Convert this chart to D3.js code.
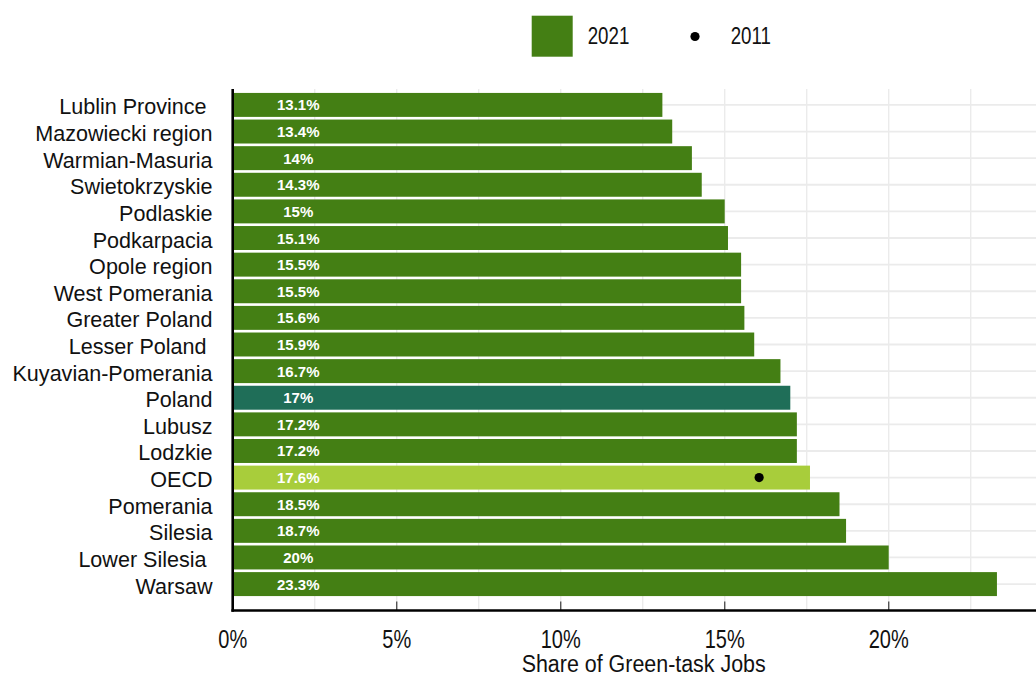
<!DOCTYPE html>
<html>
<head>
<meta charset="utf-8">
<script src="https://cdn.jsdelivr.net/npm/d3@7"></script>
<style>
  html, body { margin: 0; padding: 0; background: #ffffff; }
  svg { display: block; font-family: "Liberation Sans", Arial, Helvetica, sans-serif; }
  text { white-space: pre; }
</style>
</head>
<body>
<svg id="chart" width="1036" height="677"></svg>
<script>
// ---- data ----
const categories = [
  "Lublin Province ", "Mazowiecki region", "Warmian-Masuria", "Swietokrzyskie",
  "Podlaskie", "Podkarpacia", "Opole region", "West Pomerania", "Greater Poland",
  "Lesser Poland ", "Kuyavian-Pomerania", "Poland", "Lubusz", "Lodzkie", "OECD",
  "Pomerania", "Silesia", "Lower Silesia ", "Warsaw"
];
const values2021 = [13.1, 13.4, 14, 14.3, 15, 15.1, 15.5, 15.5, 15.6, 15.9, 16.7, 17, 17.2, 17.2, 17.6, 18.5, 18.7, 20, 23.3];
const labels2021 = ["13.1%", "13.4%", "14%", "14.3%", "15%", "15.1%", "15.5%", "15.5%", "15.6%", "15.9%", "16.7%", "17%", "17.2%", "17.2%", "17.6%", "18.5%", "18.7%", "20%", "23.3%"];
const points2011 = [{ category: "OECD", value: 16.05 }];
const xTicks = [0, 5, 10, 15, 20];
const xGrid = [0, 2.5, 5, 7.5, 10, 12.5, 15, 17.5, 20, 22.5];
const legendLabels = ["2021", "2011"];
const axisTitle = "Share of Green-task Jobs";

// ---- styles ----
const colorMain = "#447f14";
const colorPoland = "#1f6e58";
const colorOECD = "#a8cd3b";
const gridColor = "#ebebeb";

const svg = d3.select("#chart");
const panel = { left: 232.7, right: 1036, top: 89, bottom: 610.5 };

const x = d3.scaleLinear().domain([0, 24.5]).range([panel.left, panel.left + 24.5 * 32.8]);
const y = d3.scaleBand().domain(categories).range([91.6, 597.4]).paddingInner(0.1).paddingOuter(0.05);

// grid
const g = svg.append("g");
g.selectAll("line.vg").data(xGrid).join("line")
  .attr("x1", d => x(d)).attr("x2", d => x(d))
  .attr("y1", panel.top).attr("y2", panel.bottom)
  .attr("stroke", gridColor).attr("stroke-width", 1.4);
g.selectAll("line.hg").data(categories).join("line")
  .attr("x1", panel.left).attr("x2", panel.right)
  .attr("y1", d => y(d) + y.bandwidth() / 2).attr("y2", d => y(d) + y.bandwidth() / 2)
  .attr("stroke", gridColor).attr("stroke-width", 1.8);

// bars
const colorFor = c => c === "Poland" ? colorPoland : (c === "OECD" ? colorOECD : colorMain);
svg.append("g").selectAll("rect").data(categories).join("rect")
  .attr("x", x(0))
  .attr("y", d => y(d))
  .attr("width", (d, i) => x(values2021[i]) - x(0))
  .attr("height", y.bandwidth())
  .attr("fill", d => colorFor(d));

// bar labels at 2%
svg.append("g").selectAll("text").data(categories).join("text")
  .attr("x", x(2))
  .attr("y", d => y(d) + y.bandwidth() / 2 + 5.5)
  .attr("text-anchor", "middle")
  .attr("font-size", 15)
  .attr("font-weight", "bold")
  .attr("fill", "#ffffff")
  .text((d, i) => labels2021[i]);

// 2011 points
svg.append("g").selectAll("circle").data(points2011).join("circle")
  .attr("cx", d => x(d.value))
  .attr("cy", d => y(d.category) + y.bandwidth() / 2)
  .attr("r", 4.6)
  .attr("fill", "#000000");

// y labels
svg.append("g").selectAll("text").data(categories).join("text")
  .attr("transform", d => `translate(212.5,${y(d) + y.bandwidth() / 2 + 9.5}) scale(0.98,1)`)
  .attr("text-anchor", "end")
  .attr("font-size", 22)
  .attr("fill", "#111111")
  .text(d => d);

// inward ticks
svg.append("g").selectAll("line").data(xTicks).join("line")
  .attr("x1", d => x(d)).attr("x2", d => x(d))
  .attr("y1", panel.bottom - 9).attr("y2", panel.bottom)
  .attr("stroke", "#555555").attr("stroke-width", 1.4);

// axes lines
svg.append("line")
  .attr("x1", panel.left).attr("x2", panel.left)
  .attr("y1", panel.top).attr("y2", panel.bottom + 1.2)
  .attr("stroke", "#000").attr("stroke-width", 2.6);
svg.append("line")
  .attr("x1", panel.left - 1.3).attr("x2", panel.right)
  .attr("y1", panel.bottom).attr("y2", panel.bottom)
  .attr("stroke", "#000").attr("stroke-width", 2.6);

// x tick labels
svg.append("g").selectAll("text").data(xTicks).join("text")
  .attr("transform", d => `translate(${x(d)},647.5) scale(0.8,1)`)
  .attr("text-anchor", "middle")
  .attr("font-size", 25)
  .attr("fill", "#111111")
  .text(d => d + "%");

// axis title
svg.append("text")
  .attr("transform", `translate(643.7,671.5) scale(0.875,1)`)
  .attr("text-anchor", "middle")
  .attr("font-size", 24.5)
  .attr("fill", "#111111")
  .text(axisTitle);

// legend
const lg = svg.append("g");
lg.append("rect").attr("x", 531.7).attr("y", 15.7).attr("width", 41).attr("height", 41).attr("fill", colorMain);
lg.append("text")
  .attr("transform", "translate(587.7,44) scale(0.78,1)")
  .attr("font-size", 24).attr("fill", "#111111").text(legendLabels[0]);
lg.append("circle").attr("cx", 695).attr("cy", 36.5).attr("r", 4.6).attr("fill", "#000");
lg.append("text")
  .attr("transform", "translate(730.7,44) scale(0.78,1)")
  .attr("font-size", 24).attr("fill", "#111111").text(legendLabels[1]);
</script>
</body>
</html>
